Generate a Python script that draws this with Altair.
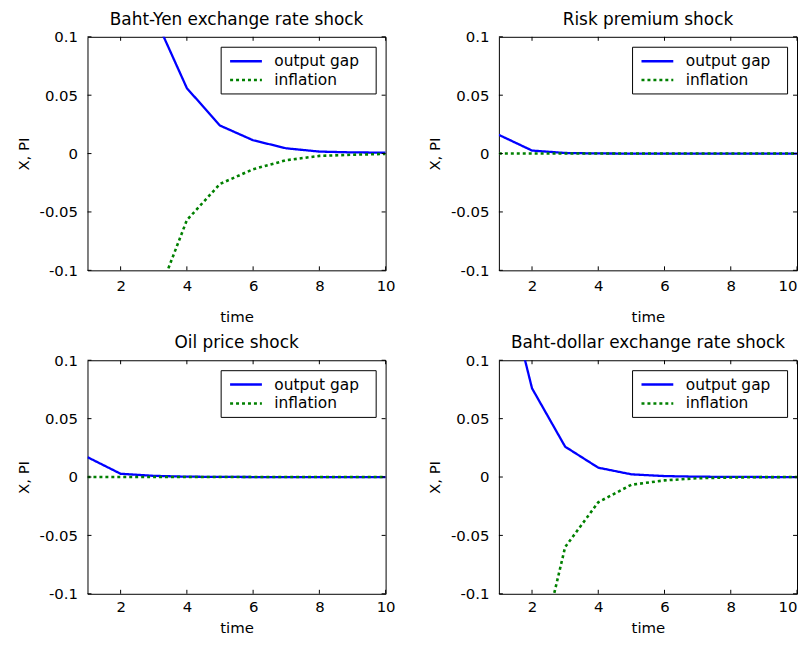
import altair as alt
import pandas as pd

# ---------------- data ----------------
time = [1, 2, 3, 4, 5, 6, 7, 8, 9, 10]
series = ["output gap", "inflation"]

titles = [
    "Baht-Yen exchange rate shock",
    "Risk premium shock",
    "Oil price shock",
    "Baht-dollar exchange rate shock",
]

yen_output = [0.50, 0.25, 0.119, 0.056, 0.024, 0.0114, 0.0045, 0.0017, 0.0010, 0.0008]
yen_inflation = [-0.50, -0.28, -0.131, -0.057, -0.026, -0.0134, -0.0057, -0.0020, -0.0010, -0.0003]

risk_output = [0.016, 0.0026, 0.0005, 0.0001, 0.0, 0.0, 0.0, 0.0, 0.0, 0.0]
risk_inflation = [0.0, 0.0, 0.0, 0.0, 0.0, 0.0, 0.0, 0.0, 0.0, 0.0]

oil_output = [0.017, 0.0028, 0.0010, 0.0003, 0.0001, 0.0, 0.0, 0.0, 0.0, 0.0]
oil_inflation = [0.0, 0.0, 0.0, 0.0, 0.0, 0.0, 0.0, 0.0, 0.0, 0.0]

dollar_output = [0.19, 0.076, 0.026, 0.008, 0.0023, 0.0008, 0.0003, 0.0001, 0.0, 0.0]
dollar_inflation = [-0.35, -0.18, -0.060, -0.0216, -0.0066, -0.0029, -0.0010, -0.0004, -0.0001, 0.0]

x_ticks = [2, 4, 6, 8, 10]
y_ticks = [-0.1, -0.05, 0, 0.05, 0.1]

# ---------------- style ----------------
W, H = 300, 235
FONT = "DejaVu Sans"
TICK = 4
colors = ["#0000ff", "#008000"]
dashes = [[1, 0], [3, 3]]
PAD = "\u2800"


def panel(title, out, inf, lab_pad, tit_pad, flush):
    df = pd.DataFrame({
        "t": time + time,
        "value": out + inf,
        "series": ["output gap"] * len(time) + ["inflation"] * len(time),
    })
    x_enc = alt.X("t:Q",
                  scale=alt.Scale(domain=[1, 10], nice=False, zero=False),
                  axis=alt.Axis(values=x_ticks, title="time", labelFlush=flush,
                                labelPadding=lab_pad, titlePadding=tit_pad))
    y_enc = alt.Y("value:Q",
                  scale=alt.Scale(domain=[-0.1, 0.1], nice=False, zero=False),
                  axis=alt.Axis(values=y_ticks, title="X, PI", labelExpr="'' + datum.value",
                                labelFlush=False, labelPadding=10, titlePadding=8))
    leg = alt.Legend(title=None, orient="top-right", offset=10,
                     symbolType="M-2,0H2", symbolSize=256, symbolStrokeWidth=2.5,
                     symbolOffset=11, labelOffset=19,
                     labelFontSize=15.5, labelFont=FONT, labelColor="black",
                     padding=5, rowPadding=1, strokeColor="black", fillColor="white",
                     labelExpr="datum.label + '" + PAD + "'")
    color = alt.Color("series:N", scale=alt.Scale(domain=series, range=colors), legend=leg)
    dash = alt.StrokeDash("series:N", scale=alt.Scale(domain=series, range=dashes), legend=leg)

    base = alt.Chart(df)
    l_out = base.transform_filter(alt.datum.series == "output gap").mark_line(
        clip=True, strokeWidth=2.3).encode(x=x_enc, y=y_enc, color=color, strokeDash=dash)
    l_inf = base.transform_filter(alt.datum.series == "inflation").mark_line(
        clip=True, strokeWidth=2.6).encode(x=x_enc, y=y_enc, color=color, strokeDash=dash)

    xt = alt.Chart(pd.DataFrame({"t": x_ticks}))
    yt = alt.Chart(pd.DataFrame({"value": y_ticks}))
    r_bottom = xt.mark_rule(color="black").encode(x=x_enc, y=alt.value(H), y2=alt.value(H - TICK))
    r_top = xt.mark_rule(color="black").encode(x=x_enc, y=alt.value(0), y2=alt.value(TICK))
    r_left = yt.mark_rule(color="black").encode(y=y_enc, x=alt.value(0), x2=alt.value(TICK))
    r_right = yt.mark_rule(color="black").encode(y=y_enc, x=alt.value(W - TICK), x2=alt.value(W))

    return alt.layer(l_out, l_inf, r_bottom, r_top, r_left, r_right).properties(
        width=W, height=H, title=title)


p1 = panel(titles[0], yen_output, yen_inflation, 8, 16, False)
p2 = panel(titles[1], risk_output, risk_inflation, 8, 16, True)
p3 = panel(titles[2], oil_output, oil_inflation, 6, 6, False)
p4 = panel(titles[3], dollar_output, dollar_inflation, 6, 6, True)

top = alt.hconcat(p1, p2, spacing=30).resolve_legend(color="independent", strokeDash="independent")
bottom = alt.hconcat(p3, p4, spacing=30).resolve_legend(color="independent", strokeDash="independent")

chart = alt.vconcat(top, bottom, spacing=8.5).resolve_legend(
    color="independent", strokeDash="independent"
).properties(
    padding={"left": 7, "top": 0, "right": 0, "bottom": 0},
    background="white",
).configure_view(
    stroke="black", strokeWidth=1
).configure_axis(
    domain=False, ticks=False, grid=False,
    labelFont=FONT, labelFontSize=15, labelColor="black",
    titleFont=FONT, titleFontSize=15, titleFontWeight="normal", titleColor="black",
).configure_title(
    font=FONT, fontSize=17, fontWeight="normal", color="black", offset=1, anchor="middle"
)

chart.save("out.html", embed_options={"renderer": "svg", "actions": False})
